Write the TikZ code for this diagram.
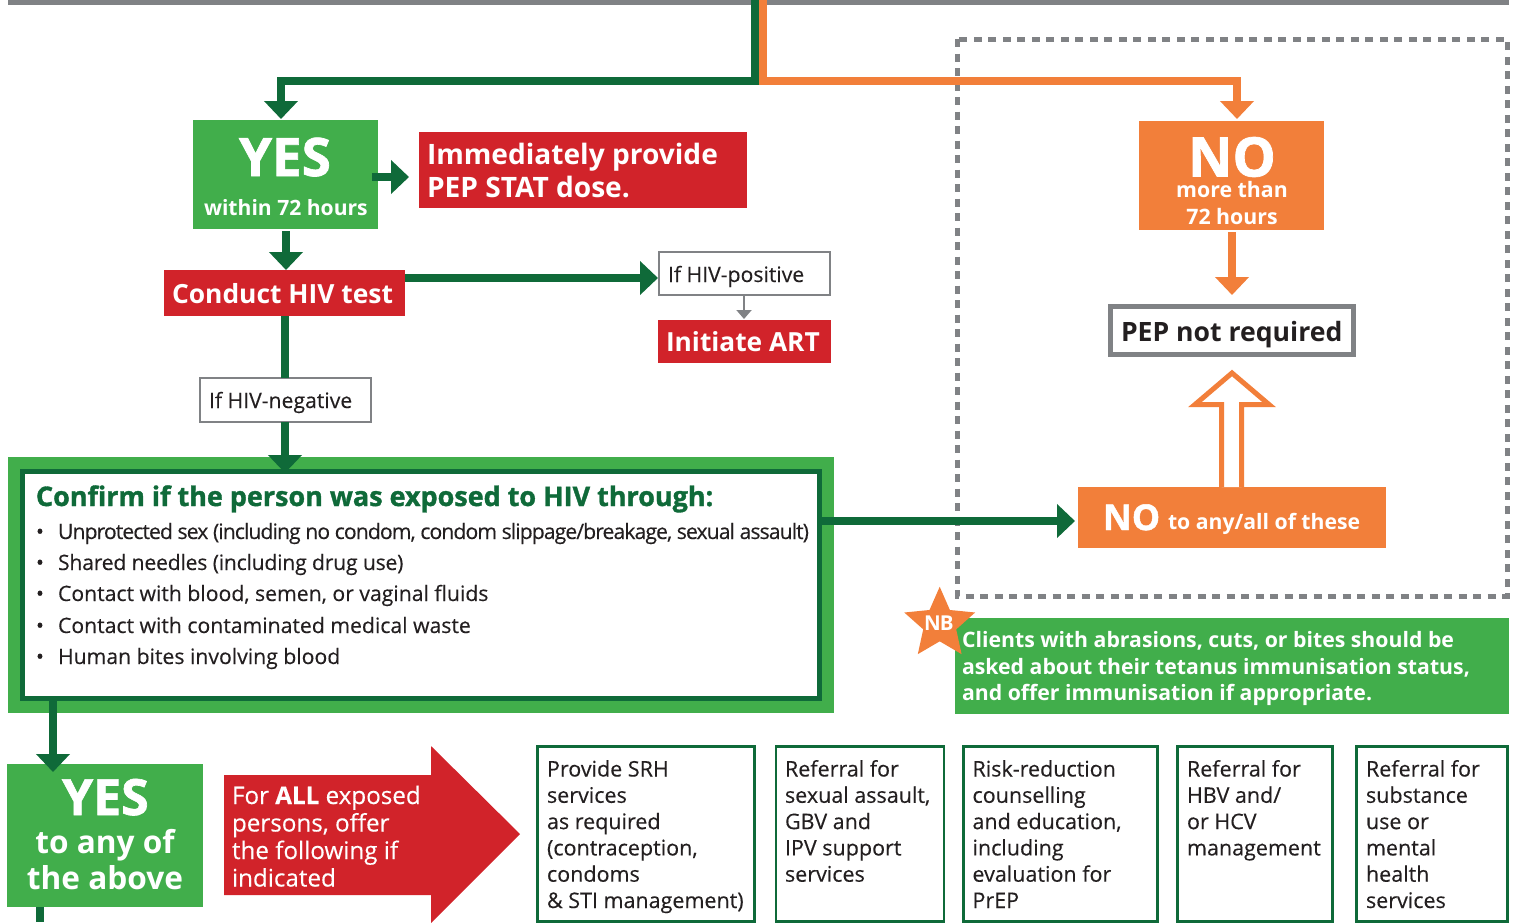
\documentclass[tikz,border=0pt]{standalone}
\usepackage{fontspec}
\setmainfont{Open Sans}
\newcommand{\osb}{\bfseries}
\newfontfamily\osxf[BoldFeatures={FakeBold=1.3}]{Open Sans}
\newcommand{\osx}{\osxf\bfseries}
\newfontfamily\osm[FakeBold=0.25]{Open Sans}
\usetikzlibrary{arrows.meta,shapes.geometric}
\definecolor{dkgreen}{HTML}{0F6A39}
\definecolor{ltgreen}{HTML}{41AE4B}
\definecolor{orng}{HTML}{F27F3A}
\definecolor{redd}{HTML}{D1232A}
\definecolor{grayy}{HTML}{808285}
\definecolor{ink}{HTML}{231F20}
\newcommand{\fs}[2]{\fontsize{#1}{#2}\selectfont}
\tikzset{
 box/.style={inner sep=0pt,outer sep=0pt,anchor=north west},
 label/.style={inner sep=0pt,outer sep=0pt,anchor=base west,align=left},
 clabel/.style={inner sep=0pt,outer sep=0pt,anchor=base,align=center},
 gflow/.style={draw=dkgreen,line width=7.7pt,-{Triangle[width=33pt,length=18pt]}},
 oflow/.style={draw=orng,line width=7.7pt,-{Triangle[width=33pt,length=18pt]}},
 serv/.style={box,draw=dkgreen,line width=2.5pt,fill=white},
 servt/.style={label,text=ink,font=\osm\fs{21.5}{26.3}},
 itemt/.style={label,text=ink,font=\osm\fs{21.2}{22}},
}
\begin{document}
\begin{tikzpicture}[x=1pt,y=-1pt]
\useasboundingbox (0,0) rectangle (1521,922);
\clip (0,0) rectangle (1521,922);
% top rule
\fill[grayy] (8,0) rectangle (1509,4.5);
% dashed frame
\draw[grayy,line width=5pt,dash pattern=on 8pt off 6.5pt] (957,39) rectangle (1507,596);
% boxes
\node[box,fill=ltgreen,minimum width=185pt,minimum height=109pt] (yes) at (193,120) {};
\node[box,fill=redd,minimum width=328pt,minimum height=76pt] (stat) at (419,132) {};
\node[box,fill=redd,minimum width=241pt,minimum height=46pt] (test) at (164,270) {};
\node[box,draw=grayy,line width=2pt,fill=white,minimum width=171pt,minimum height=43pt] (pos) at (659,252) {};
\node[box,fill=redd,minimum width=173pt,minimum height=43pt] (art) at (658,320) {};
\node[box,draw=grayy,line width=2pt,fill=white,minimum width=171pt,minimum height=44pt] (neg) at (200,378) {};
\node[box,fill=ltgreen,minimum width=826pt,minimum height=256pt] (outer) at (8,457) {};
\node[box,draw=dkgreen,line width=5pt,fill=white,minimum width=797.7pt,minimum height=227.2pt] (inner) at (22,471.5) {};
\node[box,fill=orng,minimum width=185pt,minimum height=109pt] (no) at (1139,121) {};
\node[box,draw=grayy,line width=5pt,fill=white,minimum width=243pt,minimum height=48pt] (pep) at (1110.5,306.5) {};
\node[box,fill=orng,minimum width=308pt,minimum height=61pt] (noall) at (1078,487) {};
\node[box,fill=ltgreen,minimum width=554pt,minimum height=96pt] (note) at (955,618) {};
\node[box,fill=ltgreen,minimum width=196pt,minimum height=143pt] (yesb) at (7,764) {};
% connectors
\coordinate (src) at (755,0);
\coordinate (srco) at (763,0);
\draw[oflow,line width=8pt] (srco) -- (763,81) -- (1237,81) -- (1237,119);
\draw[gflow,line width=8pt] (src) -- (755,81) -- (281,81) -- (281,119);
\draw[gflow] (372,177) -- (409,177);
\draw[gflow] (286,231) -- (286,270);
\draw[gflow] (405,278) -- (658,278);
\draw[grayy,line width=2pt,-{Triangle[width=15pt,length=9pt]}] (744,295) -- (744,319);
\draw[dkgreen,line width=7.7pt] (285,316) -- (285,378);
\draw[gflow] (285,422) -- (285,473);
\draw[gflow] (822,521) -- (1075,521);
\draw[oflow] (1232,232) -- (1232,295);
\draw[gflow] (53,700) -- (53,772);
\draw[dkgreen,line width=7.7pt] (40,907) -- (40,922);
% hollow arrow
\path[fill=white,draw=orng,line width=5pt,miter limit=10] (1221.5,487) -- (1221.5,404.5) -- (1195,404.5) -- (1232,373) -- (1269,404.5) -- (1241.5,404.5) -- (1241.5,487);
% big arrow
\fill[redd] (224,775) -- (431,775) -- (431,746) -- (520,834) -- (431,923) -- (431,895) -- (224,895) -- cycle;
% star
\node[star,star points=5,star point ratio=2.15,fill=orng,minimum size=74.5pt,inner sep=0pt] (nb) at (939.7,624) {};
% service boxes
\node[serv,minimum width=217pt,minimum height=175pt] (s1) at (537.5,746.5) {};
\node[serv,minimum width=168pt,minimum height=175pt] (s2) at (776,746.5) {};
\node[serv,minimum width=194pt,minimum height=175pt] (s3) at (963.5,746.5) {};
\node[serv,minimum width=155pt,minimum height=175pt] (s4) at (1177.5,746.5) {};
\node[serv,minimum width=151pt,minimum height=175pt] (s5) at (1356.5,746.5) {};
% text
\node[label,text=white,font=\osx\fs{53}{53}] (t1) at (239,176) {YES};
\node[label,text=white,font=\osb\fs{21.1}{22}] (t2) at (204,215) {within 72 hours};
\node[label,text=white,font=\osb\fs{28.1}{33}] (t3) at (427,197) {Immediately provide\\PEP STAT dose.};
\node[label,text=white,font=\osb\fs{26.4}{28}] (t4) at (172,303) {Conduct HIV test};
\node[label,text=ink,font=\osm\fs{21.2}{22}] (t5) at (668,282) {If HIV-positive};
\node[label,text=white,font=\osb\fs{26.3}{27}] (t6) at (666,351) {Initiate ART};
\node[label,text=ink,font=\osm\fs{21.2}{22}] (t7) at (209,408) {If HIV-negative};
\node[label,text=dkgreen,font=\osx\fs{26.95}{28}] (t8) at (36,506) {Confirm if the person was exposed to HIV through:};
\foreach \n/\yy/\tx in {a/539/{\addfontfeature{LetterSpace=-4.4}Unprotected sex (including no condom, condom slippage/breakage, sexual assault)},b/570/{\addfontfeature{LetterSpace=-1.1}Shared needles (including drug use)},c/601/{Contact with blood, semen, or vaginal fluids},d/633/{Contact with contaminated medical waste},e/664/{Human bites involving blood}}{
  \node[itemt] (bul\n) at (36,\yy) {•};
  \node[itemt] (it\n) at (58,\yy) {\tx};
}
\node[clabel,text=white,font=\osx\fs{54.5}{57}] (t9) at (1232,176.5) {NO};
\node[clabel,text=white,font=\osb\fs{21.3}{26.5}] (t10) at (1232,224) {more than\\72 hours};
\node[label,text=ink,font=\osb\fs{26.6}{27}] (t11) at (1121,341) {PEP not required};
\node[label,text=white,font=\osx\fs{35.5}{38}] (t12) at (1103,530) {NO};
\node[label,text=white,font=\osb\fs{21.2}{23}] (t13) at (1168,529) {to any/all of these};
\node[label,text=white,font=\osb\fs{20.5}{20}] (t14) at (924,630.5) {\addfontfeature{LetterSpace=-3.5}NB};
\node[label,text=white,font=\osb\fs{21.25}{26.3}] (t15) at (962,700.3) {Clients with abrasions, cuts, or bites should be\\asked about their tetanus immunisation status,\\and offer immunisation if appropriate.};
\node[label,text=white,font=\osx\fs{50}{50}] (t16) at (62,815) {YES};
\node[clabel,text=white,font=\osb\fs{31.6}{36}] (t17) at (105,889) {to any of\\the above};
\node[label,text=white,font=\osm\fs{24.2}{27.5}] (t18) at (232,886.5) {For {\osb ALL} exposed\\persons, offer\\the following if\\indicated};
\node[servt] (u1) at (547,908) {Provide SRH\\services\\as required\\(contraception,\\condoms\\\& STI management)};
\node[servt] (u2) at (785,881.7) {Referral for\\sexual assault,\\GBV and\\IPV support\\services};
\node[servt] (u3) at (972.5,908) {Risk-reduction\\counselling\\and education,\\including\\evaluation for\\PrEP};
\node[servt] (u4) at (1187,855.4) {Referral for\\HBV and/\\or HCV\\management};
\node[servt] (u5) at (1366,908) {Referral for\\substance\\use or\\mental\\health\\services};
\end{tikzpicture}
\end{document}
